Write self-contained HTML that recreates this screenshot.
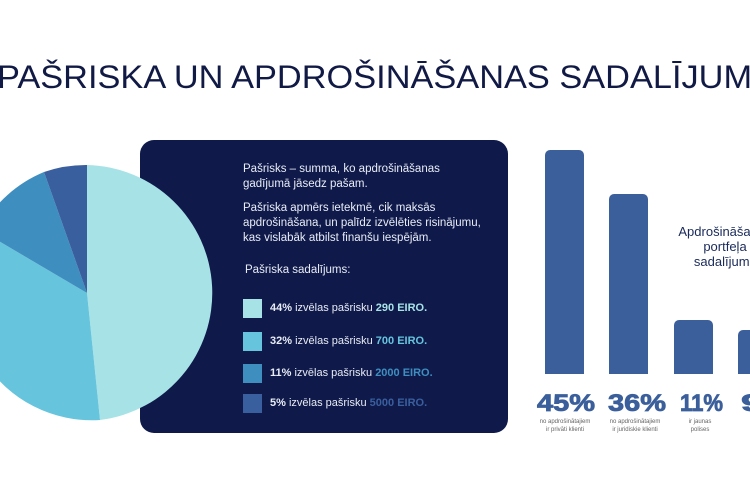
<!DOCTYPE html>
<html><head><meta charset="utf-8"><style>
body{margin:0;width:750px;height:500px;overflow:hidden;background:#fff;position:relative;font-family:"Liberation Sans",sans-serif}
.a{position:absolute}
.panel{left:140px;top:140px;width:368px;height:293px;background:#0f1a4b;border-radius:14px}
.p{color:#e8ecf5;font-size:11.5px;line-height:15px}
.sq{width:19px;height:19px}
.lg{font-size:11px;color:#e8ecf5}
.lg b{font-weight:900}
.bar{background:#3b5f9b;border-radius:5px 5px 0 0;width:39px}
.sm{font-size:6px;color:#666;text-align:center;line-height:8px}
</style></head><body>
<svg class="a" style="left:0;top:0" width="750" height="110">
<text x="-3" y="88" font-size="32" fill="#111a45" textLength="778" lengthAdjust="spacingAndGlyphs" font-family="Liberation Sans, sans-serif">PAŠRISKA UN APDROŠINĀŠANAS SADALĪJUMS</text>
</svg>
<div class="a panel"></div>
<svg class="a" style="left:0;top:0" width="230" height="440">
<path d="M87 293 L87 165 A128 128 0 0 1 100 420 Z" fill="#a7e3e6"/>
<path d="M87 293 L100 420 A128 128 0 0 1 -20 230 Z" fill="#66c4dd"/>
<path d="M87 293 L-20 230 A128 128 0 0 1 44 172 Z" fill="#3e8ec0"/>
<path d="M87 293 L44 172 A128 128 0 0 1 87 165 Z" fill="#3a5f9e"/>
</svg>
<div class="a p" style="left:243px;top:162px">Pašrisks – summa, ko apdrošināšanas<br>gadījumā jāsedz pašam.</div>
<div class="a p" style="left:243px;top:201px">Pašriska apmērs ietekmē, cik maksās<br>apdrošināšana, un palīdz izvēlēties risinājumu,<br>kas vislabāk atbilst finanšu iespējām.</div>
<div class="a p" style="left:245px;top:263px">Pašriska sadalījums:</div>
<div class="a sq" style="left:243px;top:299px;background:#a7e3e6"></div>
<div class="a lg" style="left:270px;top:302px"><b>44%</b> izvēlas pašrisku <b style="color:#a7e3e6">290 EIRO.</b></div>
<div class="a sq" style="left:243px;top:332px;background:#66c4dd"></div>
<div class="a lg" style="left:270px;top:335px"><b>32%</b> izvēlas pašrisku <b style="color:#66c4dd">700 EIRO.</b></div>
<div class="a sq" style="left:243px;top:364px;background:#3e8ec0"></div>
<div class="a lg" style="left:270px;top:367px"><b>11%</b> izvēlas pašrisku <b style="color:#3e8ec0">2000 EIRO.</b></div>
<div class="a sq" style="left:243px;top:394px;background:#3a5f9e"></div>
<div class="a lg" style="left:270px;top:397px"><b>5%</b> izvēlas pašrisku <b style="color:#3a5f9e">5000 EIRO.</b></div>
<div class="a bar" style="left:545px;top:150px;height:224px"></div>
<div class="a bar" style="left:609px;top:194px;height:180px"></div>
<div class="a bar" style="left:674px;top:320px;height:54px"></div>
<div class="a bar" style="left:738px;top:330px;height:44px"></div>
<div class="a" style="left:670px;top:224px;font-size:13px;color:#1a2a5a;text-align:center;width:110px;line-height:15px">Apdrošināšanas<br>portfeļa<br>sadalījums</div>
<svg class="a" style="left:0;top:380px" width="750" height="40">
<g font-family="Liberation Sans, sans-serif" font-weight="900" font-size="24" fill="#3b5f9b" stroke="#3b5f9b" stroke-width="0.8">
<text x="537" y="31" textLength="58" lengthAdjust="spacingAndGlyphs">45%</text>
<text x="608" y="31" textLength="58" lengthAdjust="spacingAndGlyphs">36%</text>
<text x="680" y="31" textLength="43" lengthAdjust="spacingAndGlyphs">11%</text>
<text x="741" y="31" textLength="58" lengthAdjust="spacingAndGlyphs">9%</text>
</g></svg>
<div class="a sm" style="left:535px;top:418px;width:60px">no apdrošinātajiem<br>ir privāti klienti</div>
<div class="a sm" style="left:605px;top:418px;width:60px">no apdrošinātajiem<br>ir juridiskie klienti</div>
<div class="a sm" style="left:680px;top:418px;width:40px">ir jaunas<br>polises</div>
</body></html>
